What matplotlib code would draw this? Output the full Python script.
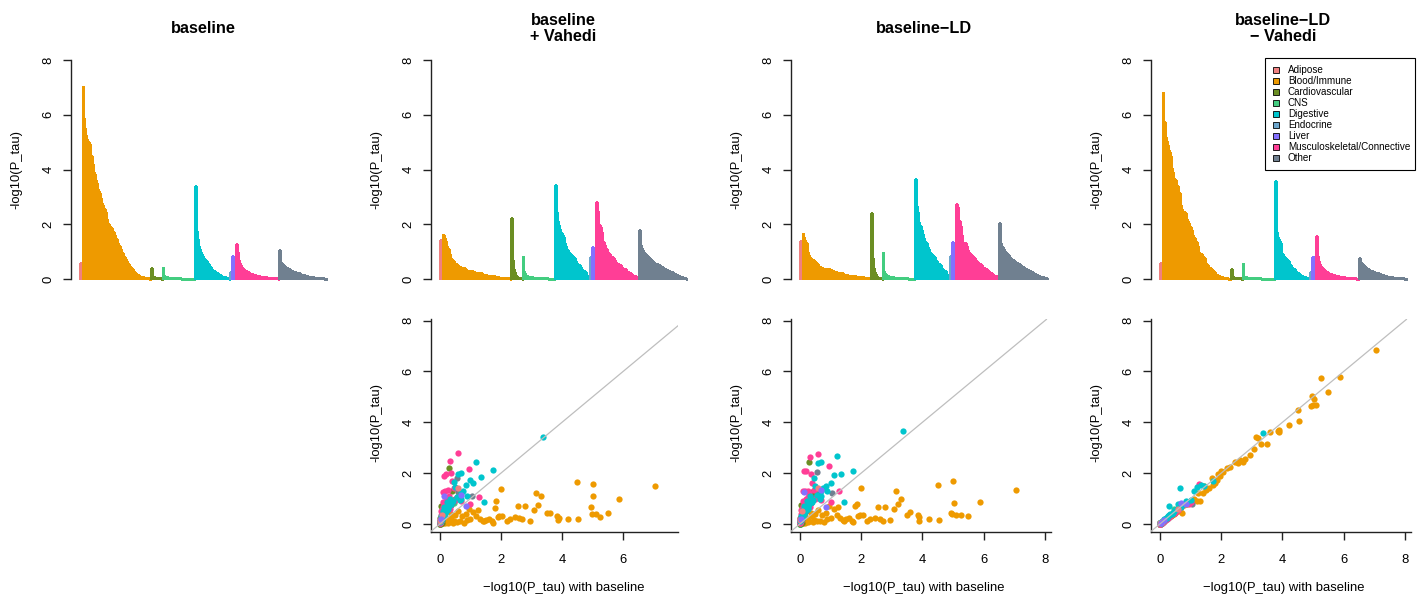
import numpy as np
import matplotlib
matplotlib.use("Agg")
import matplotlib.pyplot as plt
from matplotlib.patches import Rectangle

# ---------------- data ----------------
categories = ["Adipose", "Blood/Immune", "Cardiovascular", "CNS", "Digestive",
              "Endocrine", "Liver", "Musculoskeletal/Connective", "Other"]
cat_colors = ["#F08080", "#EE9A00", "#6B8E23", "#43CD80", "#00C5CD",
              "#6CA6CD", "#8470FF", "#FF3E96", "#708090"]
panel_titles = ["baseline", "baseline\n+ Vahedi", "baseline\u2212LD", "baseline\u2212LD\n\u2212 Vahedi"]
y_ticks = [0, 2, 4, 6, 8]

# -log10(P_tau) per annotation; same annotation order in the four models
base_adipose = [0.6, 0.08, 0.02]
vah_adipose = [1.42, 0.35, 0.1]
ld_adipose = [1.4, 0.5, 0.15]
ldv_adipose = [0.6, 0.07, 0.02]

base_blood = [7.05, 5.88, 5.5, 5.25, 5.1, 5.03, 5.0, 4.98, 4.95, 4.54,
              4.5, 4.2, 3.9, 3.88, 3.85, 3.6, 3.5, 3.3, 3.2, 3.15,
              3.08, 2.95, 2.78, 2.7, 2.6, 2.56, 2.45, 2.3, 2.2, 2.05,
              2.0, 1.95, 1.9, 1.85, 1.8, 1.75, 1.7, 1.6, 1.5, 1.45,
              1.4, 1.3, 1.25, 1.2, 1.1, 1.0,
              0.95, 0.9, 0.85, 0.8, 0.72, 0.65, 0.6, 0.55, 0.5, 0.45,
              0.42, 0.38, 0.35, 0.3, 0.27, 0.24, 0.2, 0.18, 0.16, 0.14,
              0.12, 0.1, 0.09, 0.08, 0.07, 0.06, 0.05, 0.04, 0.03, 0.03,
              0.02, 0.02, 0.01, 0.01]
vah_blood = [1.5, 0.98, 0.45, 0.28, 0.41, 1.12, 1.59, 0.41, 0.67, 0.18,
             1.64, 0.21, 0.25, 0.15, 0.3, 0.45, 0.42, 1.1, 0.75, 1.2,
             0.56, 0.12, 0.69, 0.18, 0.22, 0.69, 0.28, 0.2, 0.1, 0.3,
             1.38, 0.3, 0.28, 0.92, 0.62, 0.05, 0.1, 0.2, 0.15, 0.1,
             0.12, 0.2, 0.55, 0.3, 0.48, 0.2,
             0.6, 0.15, 0.4, 0.05, 0.3, 0.1, 0.5, 0.08, 0.35, 0.12,
             0.05, 0.25, 0.4, 0.1, 0.05, 0.2, 0.08, 0.15, 0.04, 0.3,
             0.06, 0.1, 0.03, 0.05, 0.2, 0.02, 0.07, 0.04, 0.03, 0.08,
             0.02, 0.05, 0.01, 0.03]
ld_blood = [1.34, 0.87, 0.31, 0.35, 0.35, 0.84, 1.69, 0.39, 0.45, 0.16,
            1.54, 0.2, 0.28, 0.1, 0.35, 0.48, 0.37, 0.97, 0.77, 1.3,
            0.6, 0.15, 0.65, 0.12, 0.2, 0.68, 0.25, 0.18, 0.1, 0.35,
            1.43, 0.35, 0.3, 0.77, 0.7, 0.08, 0.12, 0.25, 0.2, 0.12,
            0.15, 0.25, 0.66, 0.35, 0.6, 0.25,
            0.7, 0.2, 0.45, 0.08, 0.35, 0.12, 0.55, 0.1, 0.4, 0.15,
            0.06, 0.3, 0.45, 0.12, 0.06, 0.22, 0.1, 0.18, 0.05, 0.33,
            0.07, 0.12, 0.04, 0.06, 0.22, 0.03, 0.08, 0.05, 0.04, 0.09,
            0.03, 0.06, 0.02, 0.03]
ldv_blood = [6.85, 5.78, 5.2, 5.75, 4.7, 4.9, 4.7, 5.05, 4.65, 4.07,
             4.48, 3.9, 3.7, 3.6, 3.65, 3.63, 3.14, 3.14, 3.4, 3.42,
             2.95, 2.7, 2.55, 2.45, 2.5, 2.4, 2.45, 2.25, 2.2, 2.05,
             2.1, 1.9, 1.95, 1.75, 1.6, 1.55, 1.8, 1.4, 1.35, 1.5,
             1.2, 0.92, 1.2, 0.9, 1.0, 0.92,
             0.85, 0.8, 0.8, 0.75, 0.45, 0.6, 0.5, 0.5, 0.45, 0.4,
             0.4, 0.35, 0.3, 0.28, 0.25, 0.22, 0.18, 0.16, 0.15, 0.12,
             0.1, 0.09, 0.08, 0.07, 0.06, 0.05, 0.05, 0.04, 0.03, 0.02,
             0.02, 0.01, 0.01, 0.01]

base_cardio = [0.3, 0.4, 0.05, 0.1, 0.02, 0.08, 0.03, 0.01, 0.04, 0.02, 0.06, 0.01, 0.03, 0.02]
vah_cardio = [2.22, 1.3, 0.7, 0.35, 0.25, 0.15, 0.1, 0.08, 0.05, 0.04, 0.03, 0.02, 0.02, 0.01]
ld_cardio = [2.42, 1.25, 0.75, 0.4, 0.25, 0.18, 0.12, 0.08, 0.06, 0.05, 0.03, 0.02, 0.02, 0.01]
ldv_cardio = [0.28, 0.38, 0.05, 0.1, 0.02, 0.07, 0.03, 0.01, 0.04, 0.02, 0.05, 0.01, 0.03, 0.02]

base_cns = [0.45, 0.12, 0.1, 0.08, 0.07, 0.06, 0.05, 0.05, 0.04, 0.04,
            0.04, 0.03, 0.03, 0.03, 0.03, 0.02, 0.02, 0.02, 0.02, 0.02,
            0.02, 0.02, 0.01, 0.01, 0.01, 0.01, 0.01, 0.01, 0.01, 0.01,
            0.01, 0.01, 0.01, 0.01, 0.01, 0.0, 0.0, 0.0]
vah_cns = [0.83, 0.3, 0.2, 0.14, 0.12, 0.1, 0.09, 0.08, 0.08, 0.07,
           0.06, 0.06, 0.05, 0.05, 0.05, 0.04, 0.04, 0.04, 0.04, 0.03,
           0.03, 0.03, 0.03, 0.03, 0.02, 0.02, 0.02, 0.02, 0.02, 0.02,
           0.01, 0.01, 0.01, 0.01, 0.01, 0.01, 0.01, 0.0]
ld_cns = [1.0, 0.3, 0.22, 0.15, 0.13, 0.11, 0.1, 0.09, 0.08, 0.07,
          0.07, 0.06, 0.06, 0.05, 0.05, 0.05, 0.04, 0.04, 0.04, 0.03,
          0.03, 0.03, 0.03, 0.03, 0.02, 0.02, 0.02, 0.02, 0.02, 0.02,
          0.01, 0.01, 0.01, 0.01, 0.01, 0.01, 0.01, 0.0]
ldv_cns = [0.57, 0.1, 0.09, 0.07, 0.06, 0.05, 0.05, 0.04, 0.04, 0.04,
           0.03, 0.03, 0.03, 0.03, 0.02, 0.02, 0.02, 0.02, 0.02, 0.02,
           0.02, 0.01, 0.01, 0.01, 0.01, 0.01, 0.01, 0.01, 0.01, 0.01,
           0.01, 0.01, 0.01, 0.01, 0.0, 0.0, 0.0, 0.0]

base_digestive = [3.38, 1.75, 1.45, 1.35, 1.2, 1.1, 1.0, 0.9, 0.85, 0.75,
                  0.7, 0.7, 0.68, 0.65, 0.6, 0.55, 0.5, 0.45, 0.42, 0.38,
                  0.33, 0.3, 0.3, 0.28, 0.25, 0.22, 0.2, 0.18, 0.15, 0.13,
                  0.12, 0.1, 0.09, 0.08, 0.07, 0.06, 0.05, 0.04, 0.03, 0.02,
                  0.01]
vah_digestive = [3.42, 2.12, 0.88, 1.84, 2.43, 1.62, 1.73, 1.1, 1.54, 1.3,
                 2.02, 1.2, 1.0, 0.95, 1.96, 1.05, 1.45, 1.67, 0.9, 0.8,
                 1.0, 0.75, 0.7, 0.6, 0.55, 0.85, 0.5, 0.45, 0.4, 0.65,
                 0.35, 0.3, 0.5, 0.28, 0.25, 0.2, 0.3, 0.15, 0.12, 0.1,
                 0.08]
ld_digestive = [3.65, 2.07, 0.85, 1.95, 2.68, 1.93, 1.63, 1.3, 1.5, 1.4,
                2.45, 1.3, 1.1, 1.0, 2.4, 1.15, 1.5, 1.8, 0.95, 0.85,
                1.1, 0.8, 0.8, 0.65, 0.6, 0.9, 0.55, 0.5, 0.45, 0.7,
                0.4, 0.35, 0.55, 0.3, 0.28, 0.22, 0.32, 0.18, 0.15, 0.12,
                0.1]
ldv_digestive = [3.58, 1.7, 1.5, 1.55, 1.45, 1.3, 0.95, 0.85, 0.9, 0.8,
                 0.75, 0.65, 0.7, 1.4, 0.8, 0.6, 0.55, 0.5, 0.45, 0.4,
                 0.38, 0.72, 0.35, 0.3, 0.3, 0.25, 0.22, 0.2, 0.18, 0.15,
                 0.14, 0.12, 0.1, 0.09, 0.08, 0.07, 0.06, 0.05, 0.04, 0.03,
                 0.02]

base_endocrine = [0.25, 0.05, 0.02]
vah_endocrine = [0.8, 0.15, 0.05]
ld_endocrine = [0.85, 0.2, 0.05]
ldv_endocrine = [0.27, 0.05, 0.02]

base_liver = [0.85, 0.7, 0.15, 0.05]
vah_liver = [0.7, 1.15, 1.1, 0.2]
ld_liver = [0.68, 1.35, 1.25, 0.2]
ldv_liver = [0.8, 0.82, 0.15, 0.05]

base_musculo = [1.28, 1.0, 0.95, 0.7, 0.6, 0.5, 0.45, 0.4, 0.37, 0.34,
                0.32, 0.3, 0.28, 0.26, 0.24, 0.22, 0.2, 0.19, 0.18, 0.17,
                0.16, 0.15, 0.14, 0.13, 0.12, 0.11, 0.1, 0.1, 0.09, 0.09,
                0.08, 0.08, 0.07, 0.07, 0.06, 0.06, 0.05, 0.05, 0.05, 0.04,
                0.04, 0.04, 0.03, 0.03, 0.03, 0.02, 0.02, 0.02, 0.02, 0.01,
                0.01]
vah_musculo = [1.08, 0.8, 2.17, 0.9, 2.8, 0.95, 1.4, 1.7, 2.0, 0.6,
               2.48, 1.1, 1.0, 1.35, 0.7, 0.8, 0.9, 1.98, 0.6, 1.3,
               0.75, 1.9, 0.5, 0.55, 0.45, 0.85, 1.25, 0.4, 0.65, 0.35,
               0.45, 0.3, 0.55, 0.28, 0.35, 0.25, 0.22, 0.5, 0.2, 0.18,
               0.35, 0.15, 0.12, 0.25, 0.1, 0.08, 0.15, 0.06, 0.05, 0.1,
               0.04]
ld_musculo = [1.3, 0.85, 2.27, 0.95, 2.75, 1.0, 1.35, 1.6, 1.95, 0.65,
              2.62, 1.2, 1.05, 1.3, 0.75, 0.85, 1.0, 2.1, 0.65, 1.3,
              0.8, 2.1, 0.55, 0.6, 0.5, 0.9, 1.3, 0.45, 0.7, 0.4,
              0.5, 0.35, 0.6, 0.3, 0.4, 0.28, 0.25, 0.55, 0.22, 0.2,
              0.38, 0.18, 0.15, 0.28, 0.12, 0.1, 0.18, 0.08, 0.06, 0.12,
              0.05]
ldv_musculo = [1.57, 0.85, 0.8, 0.65, 0.55, 0.45, 0.42, 0.38, 0.35, 0.32,
               0.3, 0.28, 0.26, 0.24, 0.22, 0.2, 0.19, 0.18, 0.17, 0.16,
               0.15, 0.14, 0.13, 0.12, 0.11, 0.1, 0.1, 0.09, 0.08, 0.08,
               0.07, 0.07, 0.06, 0.06, 0.05, 0.05, 0.05, 0.04, 0.04, 0.04,
               0.03, 0.03, 0.03, 0.02, 0.02, 0.02, 0.02, 0.01, 0.01, 0.01,
               0.01]

base_other = [1.05, 0.6, 0.57, 0.55, 0.5, 0.47, 0.45, 0.43, 0.41, 0.39,
              0.37, 0.35, 0.33, 0.31, 0.3, 0.28, 0.27, 0.26, 0.25, 0.24,
              0.23, 0.22, 0.21, 0.2, 0.18, 0.17, 0.16, 0.15, 0.14, 0.13,
              0.12, 0.11, 0.1, 0.1, 0.09, 0.08, 0.08, 0.07, 0.07, 0.06,
              0.06, 0.05, 0.05, 0.04, 0.04, 0.04, 0.03, 0.03, 0.03, 0.02,
              0.02, 0.02, 0.02, 0.01, 0.01, 0.01]
vah_other = [1.12, 1.25, 1.8, 1.05, 1.0, 0.95, 0.92, 0.9, 0.88, 0.85,
             0.8, 0.75, 0.72, 0.7, 0.68, 0.65, 0.62, 0.6, 0.58, 0.56,
             0.55, 0.54, 0.52, 0.5, 0.48, 0.46, 0.44, 0.42, 0.4, 0.38,
             0.36, 0.34, 0.33, 0.31, 0.3, 0.28, 0.27, 0.25, 0.24, 0.22,
             0.2, 0.18, 0.17, 0.15, 0.14, 0.12, 0.11, 0.1, 0.08, 0.07,
             0.06, 0.05, 0.04, 0.03, 0.02, 0.01]
ld_other = [1.2, 1.3, 2.05, 1.15, 1.1, 1.05, 1.0, 0.98, 0.95, 0.92,
            0.88, 0.82, 0.8, 0.76, 0.74, 0.7, 0.68, 0.65, 0.63, 0.6,
            0.58, 0.57, 0.55, 0.53, 0.5, 0.48, 0.46, 0.44, 0.42, 0.4,
            0.38, 0.36, 0.35, 0.33, 0.31, 0.3, 0.28, 0.27, 0.25, 0.23,
            0.21, 0.19, 0.18, 0.16, 0.15, 0.13, 0.12, 0.1, 0.09, 0.08,
            0.07, 0.06, 0.05, 0.04, 0.03, 0.02]
ldv_other = [0.78, 0.6, 0.57, 0.54, 0.5, 0.47, 0.45, 0.42, 0.4, 0.38,
             0.36, 0.34, 0.32, 0.3, 0.29, 0.28, 0.26, 0.25, 0.24, 0.23,
             0.22, 0.21, 0.2, 0.19, 0.18, 0.16, 0.15, 0.14, 0.13, 0.12,
             0.11, 0.1, 0.1, 0.09, 0.08, 0.08, 0.07, 0.07, 0.06, 0.06,
             0.05, 0.05, 0.05, 0.04, 0.04, 0.04, 0.03, 0.03, 0.03, 0.02,
             0.02, 0.02, 0.02, 0.01, 0.01, 0.01]

# ---------------- assemble ----------------
base = [base_adipose, base_blood, base_cardio, base_cns, base_digestive,
        base_endocrine, base_liver, base_musculo, base_other]
vah = [vah_adipose, vah_blood, vah_cardio, vah_cns, vah_digestive,
       vah_endocrine, vah_liver, vah_musculo, vah_other]
ld = [ld_adipose, ld_blood, ld_cardio, ld_cns, ld_digestive,
      ld_endocrine, ld_liver, ld_musculo, ld_other]
ldv = [ldv_adipose, ldv_blood, ldv_cardio, ldv_cns, ldv_digestive,
       ldv_endocrine, ldv_liver, ldv_musculo, ldv_other]
models = [base, vah, ld, ldv]
for m in models[1:]:
    for a, b in zip(base, m):
        assert len(a) == len(b), (len(a), len(b))

# drawing order of the scatter points (category indices)
scatter_order = [3, 1, 8, 2, 5, 7, 4, 0, 6]

plt.rcParams["font.family"] = ["Liberation Sans", "DejaVu Sans"]
W, H = 1422, 599
fig = plt.figure(figsize=(W / 100, H / 100), dpi=100)


def ax_px(l, t, r, b):
    return fig.add_axes([l / W, 1 - b / H, (r - l) / W, (b - t) / H])


FS = 9.4
AX_COL = "#222222"

# ---------------- top row: sorted bar plots ----------------
N = sum(len(c) for c in base)
for k, model in enumerate(models):
    off = 360 * k
    ax = ax_px(71 + off, 51, 336 + off, 288)
    s = 247.0 / N
    start = 0
    for vals, col in zip(model, cat_colors):
        v = np.sort(np.asarray(vals))[::-1]
        edges = np.arange(start, start + len(v) + 1)
        ax.stairs(v, edges, fill=True, facecolor=col, edgecolor=col,
                  linewidth=0.9, antialiased=False)
        start += len(v)
    ax.set_xlim(-9.0 / s, N + 9.0 / s)
    ax.set_ylim(-0.33, 8.33)
    for sp in ["top", "right", "bottom"]:
        ax.spines[sp].set_visible(False)
    ax.spines["left"].set_bounds(0, 8)
    ax.spines["left"].set_color(AX_COL)
    ax.spines["left"].set_linewidth(1.0)
    ax.set_xticks([])
    ax.set_yticks(y_ticks)
    ax.set_yticklabels([str(t) for t in y_ticks], rotation=90, va="center")
    ax.tick_params(axis="y", direction="out", length=5.5, width=1.0,
                   color=AX_COL, labelsize=FS, pad=6.3)
    ax.patch.set_alpha(0)
    fig.text((71 + 336) / 2 / W + off / W, 1 - 28.5 / H, panel_titles[k],
             ha="center", va="center", fontsize=11.7, fontweight="bold",
             linespacing=1.15)
    fig.text((16 + off) / W, 1 - 169.5 / H, "-log10(P_tau)", rotation=90,
             ha="center", va="center", fontsize=FS)

# ---------------- bottom row: scatter vs baseline ----------------
rights = {1: 678, 2: 1051, 3: 1411}
xmaxs = {1: 7.8, 2: 8.2, 3: 8.2}
xticks_b = {1: [0, 2, 4, 6], 2: [0, 2, 4, 6, 8], 3: [0, 2, 4, 6, 8]}
for k in (1, 2, 3):
    off = 360 * k
    ax = ax_px(71 + off, 319.4, rights[k], 531.6)
    ax.axline((0, 0), (1, 1), color="#BEBEBE", lw=0.9, zorder=3)
    for ci in scatter_order:
        ax.plot(base[ci], models[k][ci], "o", color=cat_colors[ci], ms=4.5,
                mec="none", zorder=2)
    ax.set_xlim(-0.29, xmaxs[k])
    ax.set_ylim(-0.3, 8.05)
    for sp in ["top", "right"]:
        ax.spines[sp].set_visible(False)
    for sp in ["left", "bottom"]:
        ax.spines[sp].set_color(AX_COL)
        ax.spines[sp].set_linewidth(1.0)
    ax.set_yticks(y_ticks)
    ax.set_yticklabels([str(t) for t in y_ticks], rotation=90, va="center")
    ax.set_xticks(xticks_b[k])
    ax.tick_params(direction="out", length=5.5, width=1.0, color=AX_COL,
                   labelsize=FS)
    ax.tick_params(axis="y", pad=6.3)
    ax.tick_params(axis="x", pad=10.5)
    ax.patch.set_alpha(0)
    fig.text((16 + off) / W, 1 - 422.4 / H, "-log10(P_tau)", rotation=90,
             ha="center", va="center", fontsize=FS)
    fig.text((564 + off - 360) / W, 1 - 588 / H,
             "\u2212log10(P_tau) with baseline",
             ha="center", va="center", fontsize=FS)

# ---------------- legend (top-right panel) ----------------
ov = fig.add_axes([0, 0, 1, 1])
ov.set_xlim(0, W)
ov.set_ylim(H, 0)
ov.axis("off")
ov.add_patch(Rectangle((1265, 58), 150, 112, fill=False, ec="black", lw=0.8))
for i, (name, col) in enumerate(zip(categories, cat_colors)):
    yc = 70 + 11 * i
    ov.add_patch(Rectangle((1273.3, yc - 2.7), 5.4, 5.4, fc=col, ec="black", lw=0.6))
    ov.text(1288, yc, name, ha="left", va="center", fontsize=7.1)

fig.savefig("out.png", dpi=100)
